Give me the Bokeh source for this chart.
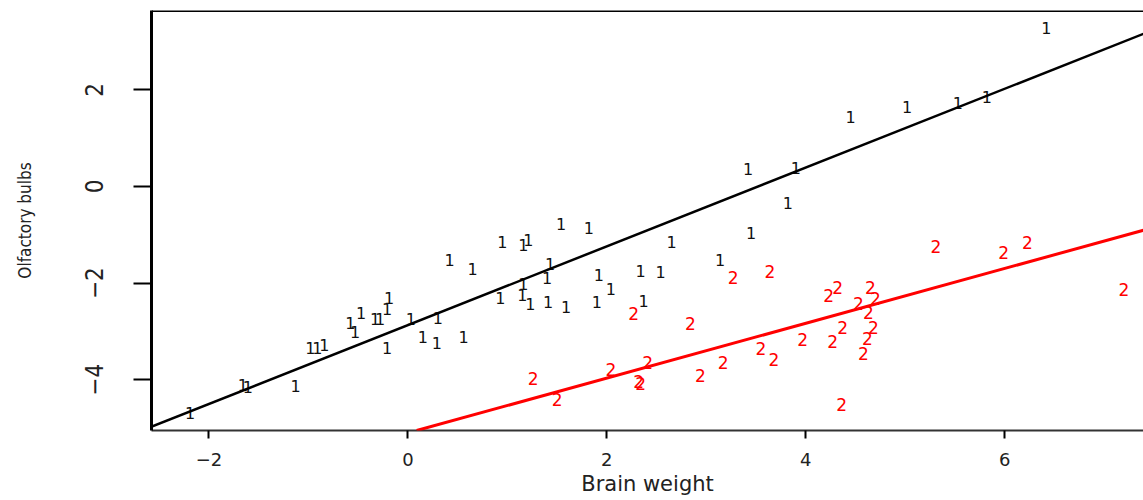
from bokeh.plotting import figure
from bokeh.models import ColumnDataSource, FixedTicker, Span, Slope
from bokeh.core.properties import value
from bokeh.embed import file_html
from bokeh.resources import INLINE

# Group 1 (labelled "1"): log brain weight vs log olfactory bulb volume
brain_1 = [6.42, 4.45, 5.02, 5.53, 5.82, 3.42, 3.90, 3.82, 3.45, 3.14,
           2.65, 1.54, 1.82, 0.95, 1.21, 1.16, 0.42, 0.65, 1.43, 1.40,
           1.16, 1.92, 2.04, 2.34, 2.54, 0.93, 1.15, 1.23, 1.41, 1.59,
           1.90, 2.37, -0.19, -0.21, -0.47, -0.33, -0.28, -0.58, -0.53, -0.98,
           -0.91, -0.84, -0.21, 0.03, 0.30, 0.15, 0.29, 0.56, -2.19, -1.66,
           -1.61, -1.13]
bulbs_1 = [3.27, 1.43, 1.65, 1.72, 1.86, 0.37, 0.39, -0.35, -0.97, -1.53,
           -1.16, -0.77, -0.85, -1.16, -1.10, -1.22, -1.53, -1.70, -1.61, -1.90,
           -2.01, -1.84, -2.13, -1.74, -1.78, -2.30, -2.25, -2.44, -2.40, -2.50,
           -2.40, -2.38, -2.30, -2.54, -2.61, -2.75, -2.75, -2.83, -3.02, -3.35,
           -3.35, -3.29, -3.35, -2.75, -2.73, -3.12, -3.23, -3.12, -4.69, -4.10,
           -4.14, -4.12]

# Group 2 (labelled "2")
brain_2 = [2.27, 2.84, 3.27, 3.64, 5.31, 5.99, 6.23, 7.20, 4.32, 4.23,
           4.65, 4.70, 4.53, 4.63, 4.37, 4.68, 4.27, 4.62, 3.97, 4.58,
           4.36, 1.26, 1.50, 2.04, 2.41, 2.32, 2.34, 2.94, 3.17, 3.55,
           3.68]
bulbs_2 = [-2.63, -2.83, -1.88, -1.76, -1.24, -1.37, -1.16, -2.13, -2.09, -2.25,
           -2.09, -2.32, -2.42, -2.61, -2.92, -2.92, -3.21, -3.14, -3.16, -3.45,
           -4.51, -3.97, -4.41, -3.78, -3.64, -4.03, -4.07, -3.91, -3.64, -3.35,
           -3.58]

# Fitted lines per group: intercept, slope
fit_intercept = [-2.87, -5.10]
fit_slope = [0.815, 0.567]

x_ticks = [-2, 0, 2, 4, 6]
y_ticks = [-4, -2, 0, 2]

NARROW = "'Liberation Sans Narrow', 'DejaVu Sans Condensed', 'Liberation Sans', sans-serif"

p = figure(width=1143, height=500, output_backend="svg", toolbar_location=None,
           x_range=(-2.578, 7.396), y_range=(-5.05, 3.64),
           min_border_left=151, min_border_top=10, min_border_bottom=70,
           min_border_right=0)
p.outline_line_color = None
p.grid.visible = False
p.background_fill_color = "white"
p.border_fill_color = "white"

src1 = ColumnDataSource(dict(x=brain_1, y=bulbs_1, t=["1"] * len(brain_1)))
src2 = ColumnDataSource(dict(x=brain_2, y=bulbs_2, t=["2"] * len(brain_2)))

p.text(x="x", y="y", text="t", source=src1, text_color="#111111",
       text_font=value("DejaVu Sans"), text_font_size="16px",
       text_align="center", text_baseline="middle")
p.text(x="x", y="y", text="t", source=src2, text_color="#ff0000",
       text_font=value("DejaVu Sans"), text_font_size="17px",
       text_align="center", text_baseline="middle")

p.add_layout(Slope(gradient=fit_slope[0], y_intercept=fit_intercept[0],
                   line_color="black", line_width=2.5))
p.add_layout(Slope(gradient=fit_slope[1], y_intercept=fit_intercept[1],
                   line_color="#ff0000", line_width=3))

# top edge of the box
p.add_layout(Span(location=3.64, dimension="width", line_color="black",
                  line_width=3))

xa = p.xaxis[0]
xa.ticker = FixedTicker(ticks=x_ticks)
xa.axis_line_color = "#333333"
xa.axis_line_width = 2
xa.major_tick_line_color = "black"
xa.major_tick_line_width = 2
xa.major_tick_out = 8
xa.major_tick_in = 0
xa.minor_tick_line_color = None
xa.major_label_text_font = "DejaVu Sans"
xa.major_label_text_font_size = "18px"
xa.major_label_text_color = "#222222"
xa.major_label_standoff = 14
xa.axis_label = "Brain weight"
xa.axis_label_text_font = "DejaVu Sans"
xa.axis_label_text_font_size = "21px"
xa.axis_label_text_font_style = "normal"
xa.axis_label_text_color = "#222222"
xa.axis_label_standoff = 3

ya = p.yaxis[0]
ya.ticker = FixedTicker(ticks=y_ticks)
ya.axis_line_color = "black"
ya.axis_line_width = 3
ya.major_tick_line_color = "black"
ya.major_tick_line_width = 2
ya.major_tick_out = 18
ya.major_tick_in = 0
ya.minor_tick_line_color = None
ya.major_label_orientation = "vertical"
ya.major_label_text_font = NARROW
ya.major_label_text_font_size = "24px"
ya.major_label_text_color = "#222222"
ya.major_label_standoff = 30
ya.axis_label = "Olfactory bulbs"
ya.axis_label_text_font = NARROW
ya.axis_label_text_font_size = "17px"
ya.axis_label_text_font_style = "normal"
ya.axis_label_text_color = "#222222"
ya.axis_label_standoff = 48

open("out.html", "w").write(file_html(p, INLINE))
